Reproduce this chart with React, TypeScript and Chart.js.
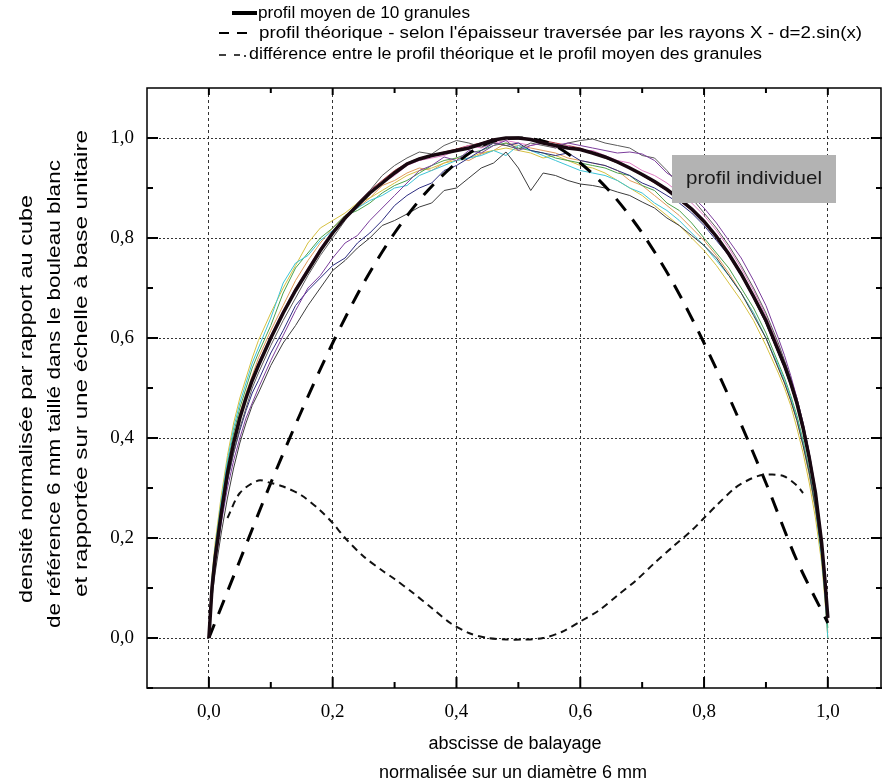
import React, { useEffect, useRef } from "react";
import { Chart, registerables } from "chart.js";

Chart.register(...registerables);

// ---------- data ----------
const X_GRID = [
  0, 0.005, 0.01, 0.02, 0.03, 0.04, 0.05, 0.06, 0.07, 0.08,
  0.10, 0.12, 0.14, 0.16, 0.18, 0.20, 0.22, 0.24, 0.26, 0.28,
  0.30, 0.32, 0.34, 0.36, 0.38, 0.40, 0.42, 0.44, 0.46, 0.48,
  0.50, 0.52, 0.54, 0.56, 0.58, 0.60, 0.62, 0.64, 0.66, 0.68,
  0.70, 0.72, 0.74, 0.76, 0.78, 0.80, 0.82, 0.84, 0.86, 0.88,
  0.90, 0.92, 0.93, 0.94, 0.95, 0.96, 0.97, 0.98, 0.99, 0.995,
  1.0,
];

const MEAN_PROFILE = [
  0.0, 0.10, 0.16, 0.25, 0.33, 0.39, 0.44, 0.48, 0.515, 0.545,
  0.60, 0.65, 0.695, 0.735, 0.775, 0.81, 0.84, 0.865, 0.89, 0.91,
  0.93, 0.948, 0.958, 0.965, 0.97, 0.975, 0.98, 0.988, 0.996, 1.0,
  1.0, 0.997, 0.99, 0.985, 0.98, 0.977, 0.97, 0.962, 0.952, 0.94,
  0.927, 0.913, 0.897, 0.878, 0.858, 0.833, 0.803, 0.768, 0.728, 0.683,
  0.635, 0.575, 0.545, 0.51, 0.47, 0.42, 0.36, 0.29, 0.19, 0.12,
  0.04,
];

const GRANULE_1 = [
  0.0, 0.08, 0.13, 0.21, 0.28, 0.34, 0.39, 0.43, 0.465, 0.49,
  0.545, 0.59, 0.625, 0.665, 0.70, 0.735, 0.755, 0.78, 0.80, 0.825,
  0.835, 0.848, 0.862, 0.87, 0.895, 0.90, 0.92, 0.94, 0.95, 0.972,
  0.94, 0.895, 0.93, 0.925, 0.915, 0.908, 0.905, 0.90, 0.892, 0.885,
  0.872, 0.86, 0.84, 0.825, 0.805, 0.785, 0.76, 0.725, 0.69, 0.645,
  0.60, 0.54, 0.51, 0.475, 0.435, 0.385, 0.33, 0.26, 0.17, 0.11,
  0.03,
];
const GRANULE_2 = [
  0.0, 0.09, 0.145, 0.23, 0.30, 0.355, 0.40, 0.44, 0.47, 0.50,
  0.555, 0.605, 0.655, 0.70, 0.725, 0.76, 0.79, 0.805, 0.835, 0.86,
  0.885, 0.91, 0.935, 0.945, 0.962, 0.955, 0.975, 0.97, 0.985, 0.995,
  0.975, 0.985, 0.99, 0.985, 0.99, 0.985, 0.98, 0.975, 0.97, 0.972,
  0.968, 0.955, 0.93, 0.915, 0.885, 0.86, 0.83, 0.795, 0.76, 0.715,
  0.665, 0.60, 0.565, 0.525, 0.48, 0.43, 0.37, 0.30, 0.20, 0.13,
  0.05,
];
const GRANULE_3 = [
  0.0, 0.10, 0.155, 0.24, 0.315, 0.37, 0.42, 0.46, 0.50, 0.53,
  0.585, 0.635, 0.68, 0.725, 0.765, 0.80, 0.835, 0.87, 0.895, 0.925,
  0.945, 0.96, 0.972, 0.968, 0.985, 0.995, 0.99, 0.982, 0.99, 0.985,
  0.978, 0.99, 0.985, 0.98, 0.99, 0.995, 0.998, 0.99, 0.985, 0.98,
  0.965, 0.96, 0.935, 0.905, 0.88, 0.85, 0.82, 0.785, 0.745, 0.70,
  0.65, 0.59, 0.555, 0.52, 0.48, 0.43, 0.37, 0.295, 0.195, 0.125,
  0.04,
];
const GRANULE_4 = [
  0.0, 0.10, 0.155, 0.24, 0.315, 0.37, 0.415, 0.455, 0.49, 0.515,
  0.57, 0.615, 0.665, 0.695, 0.72, 0.745, 0.76, 0.79, 0.81, 0.835,
  0.865, 0.885, 0.90, 0.91, 0.935, 0.945, 0.96, 0.975, 0.99, 0.985,
  0.99, 0.975, 0.97, 0.965, 0.97, 0.955, 0.95, 0.945, 0.935, 0.925,
  0.91, 0.90, 0.885, 0.87, 0.85, 0.825, 0.795, 0.765, 0.725, 0.68,
  0.63, 0.57, 0.54, 0.505, 0.465, 0.415, 0.355, 0.28, 0.185, 0.12,
  0.04,
];
const GRANULE_5 = [
  0.0, 0.12, 0.18, 0.275, 0.355, 0.42, 0.47, 0.51, 0.55, 0.58,
  0.64, 0.71, 0.75, 0.765, 0.795, 0.815, 0.84, 0.86, 0.875, 0.885,
  0.90, 0.905, 0.925, 0.935, 0.945, 0.955, 0.96, 0.965, 0.975, 0.965,
  0.985, 0.975, 0.965, 0.955, 0.945, 0.935, 0.93, 0.925, 0.915, 0.90,
  0.89, 0.87, 0.855, 0.835, 0.81, 0.785, 0.755, 0.725, 0.69, 0.65,
  0.60, 0.545, 0.515, 0.48, 0.44, 0.39, 0.33, 0.26, 0.16, 0.09,
  0.0,
];
const GRANULE_6 = [
  0.0, 0.115, 0.175, 0.27, 0.35, 0.41, 0.46, 0.50, 0.54, 0.57,
  0.625, 0.69, 0.74, 0.77, 0.80, 0.82, 0.845, 0.855, 0.87, 0.89,
  0.905, 0.915, 0.93, 0.945, 0.955, 0.96, 0.97, 0.975, 0.985, 0.99,
  0.98, 0.975, 0.97, 0.96, 0.955, 0.95, 0.945, 0.94, 0.93, 0.925,
  0.905, 0.895, 0.87, 0.855, 0.83, 0.80, 0.77, 0.74, 0.70, 0.66,
  0.61, 0.55, 0.52, 0.485, 0.445, 0.395, 0.335, 0.265, 0.17, 0.10,
  0.02,
];
const GRANULE_7 = [
  0.0, 0.125, 0.19, 0.285, 0.365, 0.43, 0.48, 0.52, 0.56, 0.595,
  0.65, 0.70, 0.745, 0.79, 0.82, 0.835, 0.85, 0.87, 0.88, 0.895,
  0.91, 0.925, 0.935, 0.94, 0.95, 0.955, 0.96, 0.97, 0.975, 0.98,
  0.975, 0.97, 0.96, 0.965, 0.955, 0.945, 0.94, 0.93, 0.915, 0.90,
  0.885, 0.865, 0.845, 0.825, 0.80, 0.775, 0.745, 0.71, 0.675, 0.635,
  0.585, 0.53, 0.50, 0.465, 0.42, 0.37, 0.31, 0.24, 0.15, 0.08,
  0.0,
];
const GRANULE_8 = [
  0.0, 0.11, 0.17, 0.26, 0.34, 0.40, 0.45, 0.49, 0.525, 0.56,
  0.615, 0.665, 0.715, 0.755, 0.79, 0.82, 0.845, 0.86, 0.88, 0.905,
  0.915, 0.93, 0.94, 0.935, 0.95, 0.96, 0.955, 0.968, 0.975, 0.99,
  0.985, 0.98, 0.975, 0.97, 0.96, 0.955, 0.95, 0.945, 0.935, 0.915,
  0.905, 0.885, 0.865, 0.845, 0.82, 0.795, 0.765, 0.73, 0.69, 0.65,
  0.60, 0.54, 0.51, 0.475, 0.435, 0.385, 0.325, 0.255, 0.165, 0.10,
  0.01,
];
const GRANULE_9 = [
  0.0, 0.105, 0.165, 0.255, 0.335, 0.395, 0.445, 0.485, 0.52, 0.55,
  0.605, 0.655, 0.70, 0.74, 0.78, 0.815, 0.84, 0.87, 0.895, 0.91,
  0.925, 0.945, 0.955, 0.96, 0.965, 0.975, 0.985, 0.98, 0.99, 0.995,
  0.99, 0.985, 0.99, 0.98, 0.985, 0.975, 0.975, 0.965, 0.955, 0.95,
  0.935, 0.925, 0.91, 0.89, 0.87, 0.845, 0.815, 0.78, 0.74, 0.695,
  0.645, 0.585, 0.55, 0.515, 0.475, 0.425, 0.365, 0.29, 0.19, 0.12,
  0.03,
];
const GRANULE_10 = [
  0.0, 0.10, 0.16, 0.25, 0.33, 0.39, 0.44, 0.48, 0.515, 0.545,
  0.60, 0.65, 0.695, 0.735, 0.775, 0.81, 0.84, 0.87, 0.895, 0.915,
  0.935, 0.95, 0.96, 0.965, 0.972, 0.978, 0.985, 0.99, 0.998, 1.0,
  1.0, 0.998, 0.995, 0.99, 0.985, 0.98, 0.97, 0.96, 0.95, 0.94,
  0.925, 0.91, 0.895, 0.875, 0.855, 0.83, 0.80, 0.765, 0.725, 0.68,
  0.63, 0.57, 0.54, 0.505, 0.465, 0.415, 0.355, 0.285, 0.185, 0.115,
  0.035,
];

const GRANULES = [
  GRANULE_1, GRANULE_2, GRANULE_3, GRANULE_4, GRANULE_5,
  GRANULE_6, GRANULE_7, GRANULE_8, GRANULE_9, GRANULE_10,
];
const GRANULE_COLORS = [
  "#3c3c3c", "#7b3d9c", "#5a5a5a", "#2c2c80", "#3cc4d6",
  "#4aa04c", "#d6c040", "#e09a5a", "#e07cc4", "#a8303c",
];

const THEORY_X = [
  0, 0.05, 0.10, 0.15, 0.20, 0.25, 0.30, 0.35, 0.40, 0.45, 0.50,
  0.55, 0.60, 0.65, 0.70, 0.75, 0.80, 0.85, 0.90, 0.95, 1.0,
];
const THEORY_Y = [
  0.0, 0.155, 0.31, 0.455, 0.59, 0.71, 0.81, 0.89, 0.95, 0.99, 1.0,
  0.99, 0.95, 0.89, 0.81, 0.71, 0.59, 0.455, 0.31, 0.155, 0.03,
];

const DIFF_X = [
  0.03, 0.05, 0.08, 0.10, 0.12, 0.15, 0.18, 0.20, 0.22, 0.25,
  0.28, 0.30, 0.33, 0.36, 0.39, 0.42, 0.45, 0.48, 0.51, 0.54,
  0.57, 0.60, 0.63, 0.66, 0.69, 0.72, 0.75, 0.78, 0.80, 0.82,
  0.85, 0.87, 0.89, 0.91, 0.93, 0.95, 0.96,
];
const DIFF_Y = [
  0.24, 0.29, 0.315, 0.31, 0.303, 0.285, 0.255, 0.23, 0.20, 0.163,
  0.135, 0.118, 0.09, 0.06, 0.03, 0.01, 0.0, -0.003, -0.003, 0.0,
  0.012, 0.033, 0.055, 0.085, 0.115, 0.15, 0.183, 0.215, 0.24, 0.265,
  0.30, 0.315, 0.325, 0.327, 0.323, 0.305, 0.29,
];

const MAJOR_TICKS = [0, 0.2, 0.4, 0.6, 0.8, 1.0];
const MINOR_TICKS = [-0.1, 0.1, 0.3, 0.5, 0.7, 0.9];
const TICK_LABELS = ["0,0", "0,2", "0,4", "0,6", "0,8", "1,0"];

const LEGEND_LABELS = [
  "profil moyen de 10 granules",
  "profil théorique - selon l'épaisseur traversée par les rayons X - d=2.sin(x)",
  "différence entre le profil théorique et le profil moyen des granules",
];
const Y_TITLE = [
  "densité normalisée par rapport au cube",
  "de référence 6 mm taillé dans le bouleau blanc",
  "et rapportée sur une échelle à base unitaire",
];
const X_TITLE = ["abscisse de balayage", "normalisée sur un diamètre 6 mm"];
const NOTE_LABEL = "profil individuel";

// ---------- helpers ----------
const SANS = "'Liberation Sans', Arial, sans-serif";
const SERIF = "'Liberation Serif', 'Times New Roman', serif";

function fitText(
  ctx: CanvasRenderingContext2D,
  text: string,
  x: number,
  y: number,
  font: string,
  width: number | null,
  align: CanvasTextAlign,
  rotate = false,
  color = "#000"
) {
  ctx.save();
  ctx.font = font;
  const w = ctx.measureText(text).width;
  const s = width ? width / w : 1;
  ctx.translate(x, y);
  if (rotate) ctx.rotate(-Math.PI / 2);
  ctx.scale(s, 1);
  ctx.textAlign = align;
  ctx.textBaseline = "middle";
  ctx.fillStyle = color;
  ctx.fillText(text, 0, 0);
  ctx.restore();
}

function seg(ctx: CanvasRenderingContext2D, x1: number, y1: number, x2: number, y2: number) {
  ctx.beginPath();
  ctx.moveTo(x1, y1);
  ctx.lineTo(x2, y2);
  ctx.stroke();
}

const decorPlugin = {
  id: "decor",
  afterDatasetsDraw(chart: any) {
    const { ctx, chartArea: a, scales } = chart;
    const xs = scales.x;
    const ys = scales.y;
    ctx.save();
    ctx.strokeStyle = "#000";
    ctx.lineWidth = 1.5;
    ctx.strokeRect(a.left, a.top, a.right - a.left - 1, a.bottom - a.top);
    ctx.lineWidth = 2;
    MAJOR_TICKS.forEach((v) => {
      const px = xs.getPixelForValue(v);
      seg(ctx, px, a.bottom, px, a.bottom - 11);
      seg(ctx, px, a.top, px, a.top + 7);
      const py = ys.getPixelForValue(v);
      seg(ctx, a.left, py, a.left + 11, py);
      seg(ctx, a.right, py, a.right - 11, py);
    });
    MINOR_TICKS.forEach((v) => {
      if (v > 0) {
        const px = xs.getPixelForValue(v);
        seg(ctx, px, a.bottom, px, a.bottom - 6);
        seg(ctx, px, a.top, px, a.top + 5);
      }
      const py = ys.getPixelForValue(v);
      seg(ctx, a.left, py, a.left + 6, py);
      seg(ctx, a.right, py, a.right - 6, py);
    });

    // note box
    ctx.fillStyle = "#b3b3b3";
    ctx.fillRect(672, 155, 164, 48);
    ctx.restore();
    fitText(ctx, NOTE_LABEL, 754, 179, `19px ${SANS}`, 136, "center", false, "#1a1a1a");
  },
  afterDraw(chart: any) {
    const { ctx } = chart;
    ctx.save();
    // legend
    ctx.strokeStyle = "#000";
    ctx.lineWidth = 4;
    seg(ctx, 232, 13, 257, 13);
    ctx.lineWidth = 2;
    seg(ctx, 219, 33, 229, 33);
    seg(ctx, 237, 33, 247, 33);
    ctx.lineWidth = 1.5;
    seg(ctx, 219, 55, 226, 55);
    seg(ctx, 234, 55, 240, 55);
    seg(ctx, 244, 56, 246, 56);
    ctx.restore();
    fitText(ctx, LEGEND_LABELS[0], 258, 14, `16px ${SANS}`, 212, "left");
    fitText(ctx, LEGEND_LABELS[1], 259, 34, `16px ${SANS}`, 603, "left");
    fitText(ctx, LEGEND_LABELS[2], 249, 55, `16px ${SANS}`, 513, "left");

    // y title (rotated, each line with its own span)
    const spans = [
      [27, 603, 195],
      [55, 628, 160],
      [82, 597, 130],
    ];
    Y_TITLE.forEach((t, i) => {
      const [cx, yb, yt] = spans[i];
      fitText(ctx, t, cx, (yb + yt) / 2, `19px ${SANS}`, yb - yt, "center", true);
    });

    // x title
    fitText(ctx, X_TITLE[0], 515, 744, `18px ${SANS}`, null, "center");
    fitText(ctx, X_TITLE[1], 513, 773, `18px ${SANS}`, null, "center");
  },
};

export default function App() {
  const ref = useRef<HTMLCanvasElement | null>(null);

  useEffect(() => {
    if (!ref.current) return;
    const toPts = (xs: number[], ys: number[]) => xs.map((x, i) => ({ x, y: ys[i] }));

    const datasets: any[] = [
      {
        label: LEGEND_LABELS[0],
        data: toPts(X_GRID, MEAN_PROFILE),
        borderColor: "#180810",
        borderWidth: 3.5,
        pointRadius: 0,
        tension: 0,
      },
      {
        label: LEGEND_LABELS[2],
        data: toPts(DIFF_X, DIFF_Y),
        borderColor: "#111",
        borderWidth: 2,
        borderDash: [7, 5],
        pointRadius: 0,
        tension: 0.3,
      },
      {
        label: LEGEND_LABELS[1],
        data: toPts(THEORY_X, THEORY_Y),
        borderColor: "#000",
        borderWidth: 3,
        borderDash: [15, 11],
        pointRadius: 0,
        tension: 0.3,
      },
      ...GRANULES.map((g, i) => ({
        label: `granule ${i + 1}`,
        data: toPts(X_GRID, g),
        borderColor: GRANULE_COLORS[i],
        borderWidth: 1,
        pointRadius: 0,
        tension: 0,
      })),
    ];

    const chart = new Chart(ref.current, {
      type: "line",
      data: { datasets },
      plugins: [decorPlugin],
      options: {
        animation: false,
        responsive: false,
        devicePixelRatio: 1,
        layout: { padding: { top: 88, right: 0, left: 0, bottom: 0 } },
        plugins: { legend: { display: false }, tooltip: { enabled: false } },
        scales: {
          x: {
            type: "linear",
            min: -0.1,
            max: 1.0875,
            afterBuildTicks: (s: any) => {
              s.ticks = MAJOR_TICKS.map((v) => ({ value: v }));
            },
            afterFit: (s: any) => {
              s.height = 96;
            },
            ticks: {
              callback: (v: any) => TICK_LABELS[MAJOR_TICKS.indexOf(Number(v))] ?? "",
              font: { family: SERIF, size: 19 },
              color: "#000",
              padding: 13,
              maxRotation: 0,
              autoSkip: false,
            },
            grid: { color: "#333", lineWidth: 1, drawTicks: false },
            border: { display: false, dash: [3, 3] },
          },
          y: {
            type: "linear",
            min: -0.1,
            max: 1.1,
            afterBuildTicks: (s: any) => {
              s.ticks = MAJOR_TICKS.map((v) => ({ value: v }));
            },
            afterFit: (s: any) => {
              s.width = 147;
            },
            ticks: {
              callback: (v: any) => TICK_LABELS[MAJOR_TICKS.indexOf(Number(v))] ?? "",
              font: { family: SERIF, size: 19 },
              color: "#000",
              padding: 13,
              autoSkip: false,
            },
            grid: { color: "#333", lineWidth: 1, drawTicks: false },
            border: { display: false, dash: [2, 2] },
          },
        },
      },
    });
    return () => chart.destroy();
  }, []);

  return (
    <canvas
      ref={ref}
      width={882}
      height={784}
      style={{ position: "absolute", left: 0, top: 0, width: 882, height: 784 }}
    />
  );
}
